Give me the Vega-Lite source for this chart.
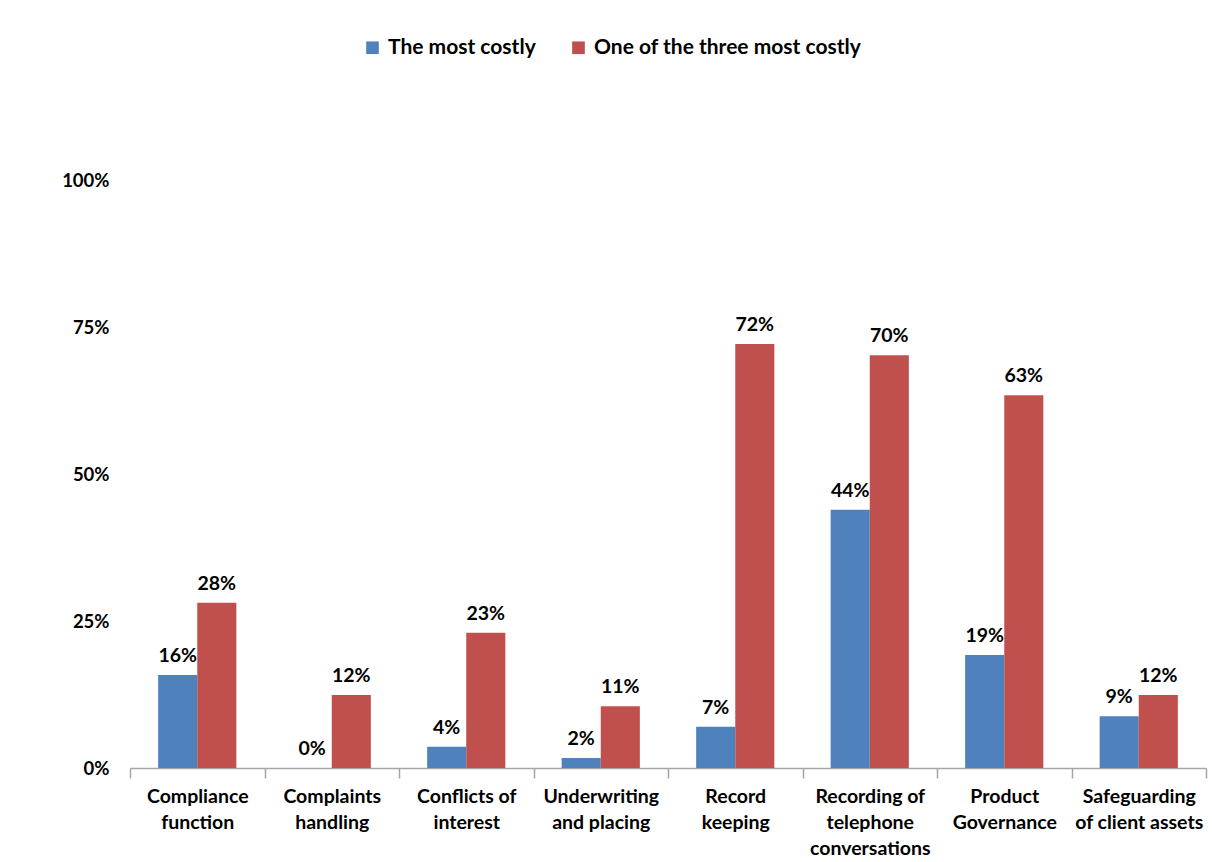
{
  "$schema": "https://vega.github.io/schema/vega-lite/v6.json",
  "autosize": {"type": "none"},
  "padding": {"left": 130, "top": 180, "right": 6, "bottom": 94},
  "width": 1076,
  "height": 588,
  "background": "white",
  "config": {
    "view": {"stroke": null},
    "font": "Lato",
    "text": {"font": "Lato"}
  },
  "data": {
    "values": [
      {"category": "Compliance|function", "series": "The most costly", "value": 0.158, "label": "16%"},
      {"category": "Compliance|function", "series": "One of the three most costly", "value": 0.281, "label": "28%"},
      {"category": "Complaints|handling", "series": "The most costly", "value": 0.0, "label": "0%"},
      {"category": "Complaints|handling", "series": "One of the three most costly", "value": 0.124, "label": "12%"},
      {"category": "Conflicts of|interest", "series": "The most costly", "value": 0.036, "label": "4%"},
      {"category": "Conflicts of|interest", "series": "One of the three most costly", "value": 0.23, "label": "23%"},
      {"category": "Underwriting|and placing", "series": "The most costly", "value": 0.017, "label": "2%"},
      {"category": "Underwriting|and placing", "series": "One of the three most costly", "value": 0.105, "label": "11%"},
      {"category": "Record|keeping", "series": "The most costly", "value": 0.07, "label": "7%"},
      {"category": "Record|keeping", "series": "One of the three most costly", "value": 0.721, "label": "72%"},
      {"category": "Recording of|telephone|conversations", "series": "The most costly", "value": 0.439, "label": "44%"},
      {"category": "Recording of|telephone|conversations", "series": "One of the three most costly", "value": 0.702, "label": "70%"},
      {"category": "Product|Governance", "series": "The most costly", "value": 0.192, "label": "19%"},
      {"category": "Product|Governance", "series": "One of the three most costly", "value": 0.634, "label": "63%"},
      {"category": "Safeguarding|of client assets", "series": "The most costly", "value": 0.088, "label": "9%"},
      {"category": "Safeguarding|of client assets", "series": "One of the three most costly", "value": 0.124, "label": "12%"}
    ]
  },
  "encoding": {
    "x": {
      "field": "category",
      "type": "nominal",
      "sort": null,
      "scale": {"paddingInner": 0, "paddingOuter": 0},
      "axis": {
        "title": null,
        "labelAngle": 0,
        "labelExpr": "isValid(datum.value) ? split(datum.value, '|') : ''",
        "labelFont": "Lato",
        "labelFontWeight": "bold",
        "labelFontSize": 19.5,
        "labelLineHeight": 26,
        "labelColor": "#000000",
        "labelPadding": 9,
        "labelBaseline": "top",
        "labelLimit": 200,
        "tickBand": "extent",
        "tickSize": 10,
        "tickColor": "#a6a6a6",
        "domainColor": "#a6a6a6",
        "domainWidth": 1.5,
        "tickWidth": 1.5
      }
    },
    "xOffset": {
      "field": "series",
      "type": "nominal",
      "sort": ["The most costly", "One of the three most costly"],
      "scale": {"paddingInner": 0, "paddingOuter": 0.72}
    },
    "y": {
      "field": "value",
      "type": "quantitative",
      "scale": {"domain": [0, 1], "nice": false},
      "axis": {
        "title": null,
        "values": [0, 0.25, 0.5, 0.75, 1],
        "format": ".0%",
        "domain": false,
        "ticks": false,
        "grid": false,
        "labelFont": "Lato",
        "labelFontWeight": "bold",
        "labelFontSize": 18.5,
        "labelColor": "#000000",
        "labelPadding": 21
      }
    }
  },
  "layer": [
    {
      "mark": {"type": "bar"},
      "encoding": {
        "color": {
          "field": "series",
          "type": "nominal",
          "sort": ["The most costly", "One of the three most costly"],
          "scale": {"domain": ["The most costly", "One of the three most costly"], "range": ["#4F81BD", "#C0504D"]},
          "legend": {
            "title": null,
            "orient": "none",
            "direction": "horizontal",
            "legendX": 232,
            "legendY": -143,
            "symbolType": "square",
            "symbolSize": 160,
            "symbolStrokeWidth": 0,
            "labelFont": "Lato",
            "labelFontWeight": "bold",
            "labelFontSize": 21,
            "labelColor": "#000000",
            "labelLimit": 400,
            "columnPadding": 32,
            "labelOffset": 5
          }
        }
      }
    },
    {
      "mark": {"type": "text", "baseline": "bottom", "dy": -9, "font": "Lato", "fontWeight": "bold", "fontSize": 19.5, "color": "#000000"},
      "encoding": {
        "text": {"field": "label"}
      }
    }
  ]
}
